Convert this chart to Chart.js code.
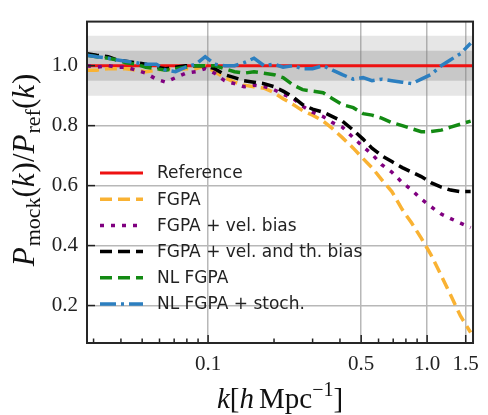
<!DOCTYPE html>
<html>
<head>
<meta charset="utf-8">
<script src="https://cdn.jsdelivr.net/npm/chart.js@4.4.1/dist/chart.umd.min.js"></script>
<style>
html, body { margin: 0; padding: 0; background: #fff; }
</style>
</head>
<body>
<canvas id="chart" width="488" height="415"></canvas>
<script>
// k values (h/Mpc)
const kValues = [0.028, 0.031, 0.035, 0.038, 0.042, 0.047, 0.052, 0.058, 0.064, 0.071,
    0.079, 0.088, 0.097, 0.107, 0.119, 0.132, 0.146, 0.162, 0.18, 0.2,
    0.22, 0.245, 0.27, 0.3, 0.335, 0.37, 0.41, 0.46, 0.51, 0.56,
    0.62, 0.69, 0.77, 0.85, 0.94, 1.04, 1.16, 1.28, 1.42, 1.58];

const fgpa = [0.985, 0.985, 0.99, 0.99, 0.99, 0.985, 0.98, 0.985, 0.99, 0.985,
    0.99, 0.99, 1.0, 0.98, 0.96, 0.945, 0.935, 0.93, 0.925, 0.91,
    0.89, 0.87, 0.85, 0.835, 0.815, 0.79, 0.76, 0.725, 0.69, 0.66,
    0.62, 0.58, 0.52, 0.475, 0.425, 0.37, 0.3, 0.235, 0.165, 0.11];

const fgpaVel = [1.0, 0.995, 1.0, 0.995, 0.995, 0.985, 0.975, 0.955, 0.945, 0.96,
    0.975, 0.98, 0.99, 0.975, 0.95, 0.94, 0.93, 0.935, 0.93, 0.92,
    0.905, 0.89, 0.865, 0.845, 0.83, 0.81, 0.795, 0.76, 0.73, 0.705,
    0.67, 0.645, 0.61, 0.585, 0.555, 0.53, 0.505, 0.49, 0.475, 0.46];

const fgpaVelTh = [1.04, 1.035, 1.03, 1.02, 1.015, 1.01, 1.005, 0.995, 0.99, 0.995,
    1.0, 1.0, 1.0, 0.99, 0.97, 0.96, 0.95, 0.945, 0.94, 0.93,
    0.915, 0.895, 0.87, 0.855, 0.845, 0.83, 0.815, 0.785, 0.755, 0.725,
    0.7, 0.68, 0.66, 0.645, 0.63, 0.61, 0.595, 0.585, 0.58, 0.58];

const nlFgpa = [1.035, 1.03, 1.025, 1.02, 1.01, 1.005, 0.995, 0.99, 0.985, 0.99,
    0.995, 1.0, 1.0, 1.0, 0.99, 0.98, 0.975, 0.98, 0.975, 0.97,
    0.96, 0.935, 0.92, 0.915, 0.91, 0.89, 0.87, 0.86, 0.84, 0.835,
    0.825, 0.81, 0.8, 0.79, 0.78, 0.78, 0.785, 0.795, 0.805, 0.815];

const nlFgpaStoch = [1.035, 1.03, 1.025, 1.02, 1.015, 1.01, 1.005, 1.005, 0.985, 0.98,
    0.995, 1.005, 1.03, 1.005, 1.0, 1.0, 1.01, 1.025, 1.0, 1.005,
    0.995, 1.0, 0.99, 0.99, 1.0, 0.985, 0.97, 0.955, 0.96, 0.95,
    0.955, 0.95, 0.945, 0.94, 0.955, 0.97, 1.0, 1.02, 1.04, 1.075];

const kRef = [0.028, 1.62];
const reference = [1.0, 1.0];
const band10 = [0.9, 1.1];
const band5 = [0.95, 1.05];

const xMajorTicks = [0.1, 0.5, 1.0, 1.5];
const xMinorTicks = [0.03, 0.04, 0.05, 0.06, 0.07, 0.08, 0.09, 0.2, 0.3, 0.4, 0.6, 0.7, 0.8, 0.9];
const yTicks = [0.2, 0.4, 0.6, 0.8, 1.0];

function pts(xs, ys) {
    return xs.map((x, i) => ({ x: x, y: ys[i] }));
}

function line(label, data, color, dash, order) {
    return {
        label: label,
        data: pts(kValues, data),
        borderColor: color,
        backgroundColor: color,
        borderWidth: 3.5,
        borderDash: dash,
        pointRadius: 0,
        fill: false,
        order: order
    };
}

// draws a list of text pieces (with sub/superscripts) centred on 0
function drawRuns(c, runs) {
    let total = 0;
    runs.forEach(r => { c.font = r.f; r.w = c.measureText(r.t).width; total += r.w + (r.gap || 0); });
    let x = -total / 2;
    runs.forEach(r => {
        c.font = r.f;
        c.fillText(r.t, x, r.dy || 0);
        x += r.w + (r.gap || 0);
    });
}

const extras = {
    id: 'extras',
    afterDraw(chart) {
        const c = chart.ctx;
        const a = chart.chartArea;
        const xs = chart.scales.x;
        const ys = chart.scales.y;
        c.save();
        // inward tick marks
        c.strokeStyle = '#222';
        c.lineWidth = 1.5;
        xs.ticks.forEach(t => {
            const px = xs.getPixelForValue(t.value);
            const len = xMajorTicks.includes(t.value) ? 8 : 4.5;
            c.beginPath();
            c.moveTo(px, a.bottom);
            c.lineTo(px, a.bottom - len);
            c.stroke();
        });
        ys.ticks.forEach(t => {
            const py = ys.getPixelForValue(t.value);
            c.beginPath();
            c.moveTo(a.left, py);
            c.lineTo(a.left + 8, py);
            c.stroke();
        });
        // frame
        c.lineWidth = 2;
        c.strokeStyle = '#262626';
        c.strokeRect(a.left, a.top, a.right - a.left, a.bottom - a.top);

        // legend
        const lines = chart.data.datasets.filter(d => d.label);
        lines.forEach((d, i) => {
            const y = 173 + i * 26.2;
            c.strokeStyle = d.borderColor;
            c.lineWidth = d.borderWidth;
            c.setLineDash(d.borderDash || []);
            c.beginPath();
            c.moveTo(100, y);
            c.lineTo(143, y);
            c.stroke();
            c.setLineDash([]);
            c.fillStyle = '#222';
            c.font = '17px "DejaVu Sans"';
            c.textBaseline = 'middle';
            c.textAlign = 'left';
            c.fillText(d.label, 157, y + 1);
        });

        // axis titles
        c.fillStyle = '#111';
        c.textBaseline = 'alphabetic';
        c.textAlign = 'left';
        const it = 'italic 31px "Liberation Serif"';
        const up = '31px "Liberation Serif"';
        const sub = '22px "Liberation Serif"';
        c.save();
        c.translate(34, 170);
        c.rotate(-Math.PI / 2);
        drawRuns(c, [
            { t: 'P', f: it, gap: 1 }, { t: 'mock', f: sub, dy: 6 },
            { t: '(', f: up }, { t: 'k', f: it, gap: 1 }, { t: ')', f: up },
            { t: '/', f: up }, { t: 'P', f: it, gap: 1 }, { t: 'ref', f: sub, dy: 6 },
            { t: '(', f: up }, { t: 'k', f: it, gap: 1 }, { t: ')', f: up }
        ]);
        c.restore();

        const it2 = 'italic 29px "Liberation Serif"';
        const up2 = '29px "Liberation Serif"';
        const sup = '20px "Liberation Serif"';
        c.save();
        c.translate((a.left + a.right) / 2, 408);
        drawRuns(c, [
            { t: 'k', f: it2 }, { t: '[', f: up2 }, { t: 'h', f: it2, gap: 5 },
            { t: 'Mpc', f: up2 }, { t: '\u22121', f: sup, dy: -12 }, { t: ']', f: up2 }
        ]);
        c.restore();
        c.restore();
    }
};

const ctx = document.getElementById('chart').getContext('2d');
new Chart(ctx, {
    type: 'line',
    data: {
        datasets: [
            {
                data: pts(kRef, band10.map(() => band10[1])),
                fill: { value: band10[0] },
                backgroundColor: 'rgba(128,128,128,0.2)',
                borderWidth: 0,
                pointRadius: 0,
                order: 20
            },
            {
                data: pts(kRef, band5.map(() => band5[1])),
                fill: { value: band5[0] },
                backgroundColor: 'rgba(128,128,128,0.3)',
                borderWidth: 0,
                pointRadius: 0,
                order: 19
            },
            {
                label: 'Reference',
                data: pts(kRef, reference),
                borderColor: '#ee1111',
                borderWidth: 3,
                pointRadius: 0,
                fill: false,
                order: 7
            },
            line('FGPA', fgpa, '#f9b233', [12, 6], 6),
            line('FGPA + vel. bias', fgpaVel, '#800080', [4, 7], 5),
            line('FGPA + vel. and th. bias', fgpaVelTh, '#000000', [12, 6], 4),
            line('NL FGPA', nlFgpa, '#138a13', [12, 6], 3),
            line('NL FGPA + stoch.', nlFgpaStoch, '#2c7fc0', [16, 5, 3, 5], 2)
        ]
    },
    options: {
        responsive: false,
        animation: false,
        devicePixelRatio: 1,
        layout: { padding: { left: 0, right: 9, top: 9, bottom: 0 } },
        plugins: {
            legend: { display: false },
            tooltip: { enabled: false }
        },
        scales: {
            x: {
                type: 'logarithmic',
                min: 0.028,
                max: 1.62,
                afterBuildTicks: axis => {
                    axis.ticks = xMinorTicks.concat(xMajorTicks).sort((p, q) => p - q).map(v => ({ value: v }));
                },
                afterFit: axis => { axis.height = 72; },
                grid: {
                    drawTicks: false,
                    lineWidth: 1.5,
                    color: c => (c.tick && xMajorTicks.includes(c.tick.value)) ? '#b8b8b8' : 'rgba(0,0,0,0)'
                },
                border: { display: false },
                ticks: {
                    autoSkip: false,
                    maxRotation: 0,
                    padding: 9,
                    color: '#222',
                    font: { family: 'Liberation Serif', size: 21 },
                    callback: v => xMajorTicks.includes(v) ? v.toFixed(1) : ''
                }
            },
            y: {
                type: 'linear',
                min: 0.075,
                max: 1.147,
                afterBuildTicks: axis => {
                    axis.ticks = yTicks.map(v => ({ value: v }));
                },
                afterFit: axis => { axis.width = 87; },
                grid: {
                    drawTicks: false,
                    lineWidth: 1.5,
                    color: '#b8b8b8'
                },
                border: { display: false },
                ticks: {
                    padding: 9,
                    color: '#222',
                    font: { family: 'Liberation Serif', size: 21 },
                    callback: v => v.toFixed(1)
                }
            }
        }
    },
    plugins: [extras]
});
</script>
</body>
</html>
